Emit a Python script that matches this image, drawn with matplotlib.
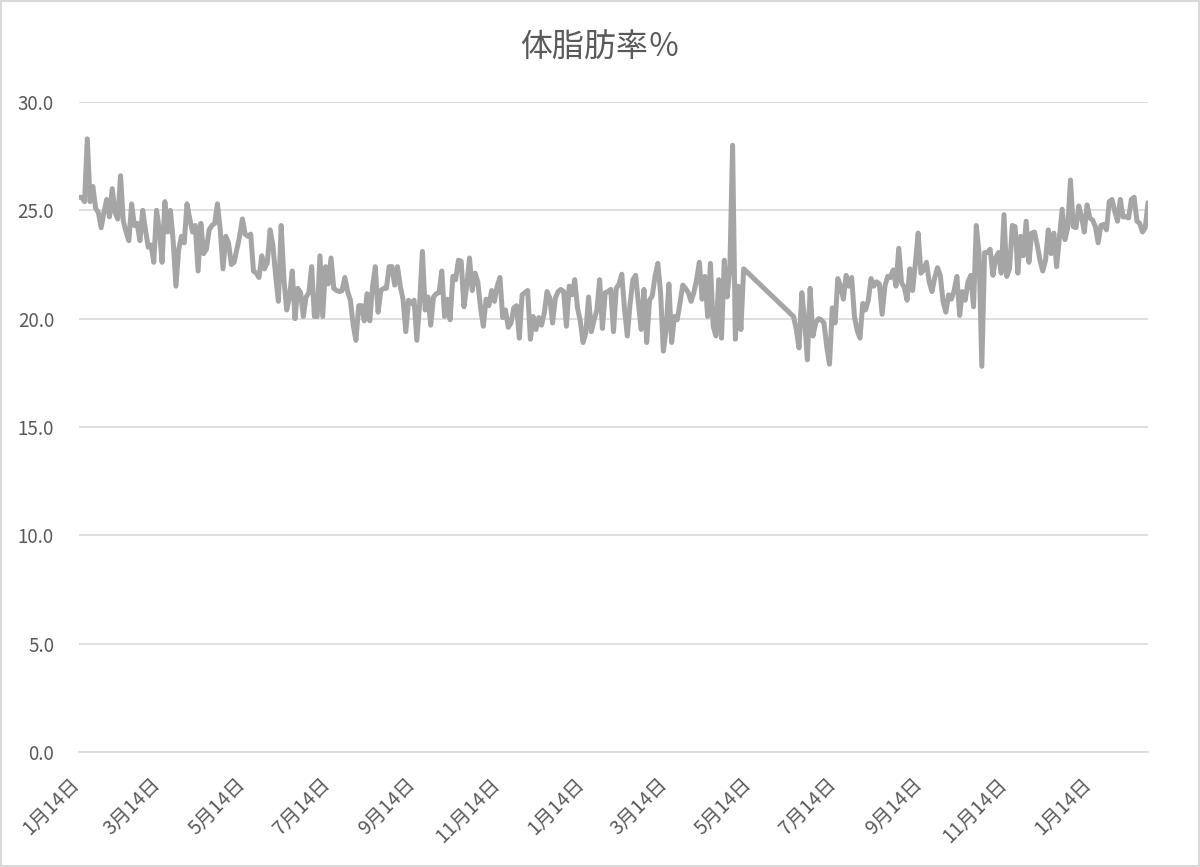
import matplotlib
matplotlib.use("Agg")
import matplotlib.pyplot as plt
import matplotlib.dates as mdates
from matplotlib.patches import Rectangle
from matplotlib.ticker import FuncFormatter, MultipleLocator
from matplotlib.transforms import ScaledTranslation
import pandas as pd

plt.rcParams["font.family"] = ["Noto Sans CJK JP", "DejaVu Sans"]

title = "体脂肪率％"

start_a = "2019-01-14"
fat_a = [
    25.6, 25.6, 25.4, 28.3, 25.4, 26.1, 25.1, 24.9, 24.2, 24.9,
    25.5, 24.7, 26.0, 24.9, 24.6, 26.6, 24.5, 24.0, 23.6, 25.3,
    24.3, 24.4, 23.6, 25.0, 24.1, 23.3, 23.4, 22.6, 25.0, 24.1,
    22.6, 25.4, 24.0, 25.0, 23.6, 21.5, 23.2, 23.8, 23.5, 25.3,
    24.6, 24.0, 24.3, 22.2, 24.4, 23.0, 23.2, 24.1, 24.3, 24.4,
    25.3, 24.1, 22.3, 23.8, 23.5, 22.5, 22.6, 23.2, 23.8, 24.6,
    23.9, 23.8, 23.9, 22.2, 22.1,
    21.9, 22.9, 22.3, 22.6, 24.1, 23.4, 22.0, 20.8, 24.3, 21.8,
    20.4, 21.0, 22.2, 20.0, 21.4, 21.2, 20.1, 21.0, 21.2, 22.4,
    20.1, 20.1, 22.9, 20.1, 22.4, 21.6, 22.8, 21.4, 21.3, 21.25,
    21.3, 21.9, 21.25, 20.85, 19.7, 19.0, 20.6, 20.6, 19.9, 21.15,
    19.9, 21.5, 22.4, 20.3, 21.3, 21.4, 21.4, 22.4, 22.4, 21.55,
    22.4, 21.5, 20.9, 19.4, 20.85, 20.7, 20.85, 19.0, 20.7, 23.1,
    20.4, 21.0, 19.7, 21.0, 21.15,
    21.2, 22.2, 20.1, 20.9, 19.95, 21.95, 21.8, 22.7, 22.65, 20.55,
    21.5, 22.8, 21.3, 22.1, 21.7, 20.5, 19.65, 20.9, 20.6, 21.3,
    20.8, 21.5, 21.9, 20.05, 20.4, 19.6, 19.8, 20.5, 20.6, 19.1,
    21.1, 21.2, 21.3, 19.05, 20.1, 19.5, 20.05, 19.7, 20.25, 21.25,
    20.95, 19.8, 20.95, 21.25, 21.35, 21.25, 19.65, 21.5, 21.1, 21.8,
    20.5, 19.9, 18.9, 19.35, 21.0, 19.4, 19.95, 20.4, 21.8, 19.55,
    21.2, 21.25, 21.35, 19.4, 21.4,
    21.6, 22.05, 20.4, 19.2, 20.7, 21.8, 22.0, 20.7, 19.5, 21.35,
    18.9, 20.85, 21.05, 21.95, 22.55, 21.2, 18.5, 19.5, 21.6, 18.9,
    20.1, 19.95, 20.7, 21.55, 21.4, 21.2, 20.8, 21.2, 21.8, 22.6,
    20.9, 21.95, 20.1, 22.55, 19.65, 19.2, 21.8, 19.1, 22.7, 21.0,
    22.25, 28.0, 19.05, 21.5, 19.5, 22.3,
]

# no measurements for about a month, then every 2 days again
start_b = "2020-06-13"
fat_b = [
    20.1, 19.5, 18.65, 21.2, 19.95, 18.1, 21.4, 19.2, 19.8, 20.0,
    19.95, 19.8, 18.7, 17.9, 20.5, 19.8, 21.85, 21.5, 20.9, 22.0,
    21.5, 21.9, 20.1, 19.45, 19.1, 20.7, 20.4, 20.85, 21.85, 21.5,
    21.7, 21.6, 20.2, 21.5, 21.95, 21.9, 22.25, 21.5, 23.25, 21.65,
    21.45, 20.85, 22.3, 21.3, 22.55, 23.95, 22.1, 22.25, 22.6, 21.7,
    21.25, 21.9, 22.35, 22.0, 20.8, 20.3, 21.1, 20.9, 21.3, 21.95,
    20.15, 21.25, 20.85, 21.7, 22.0, 20.55, 24.3, 23.0, 17.8, 23.05,
    23.05, 23.2, 22.0, 22.8, 23.05, 22.1, 24.8, 21.95, 22.3, 24.3,
    24.25, 22.1, 23.8, 22.9, 24.5, 22.6, 23.95, 24.0, 23.4, 22.7,
    22.2, 22.7, 24.1, 23.0, 23.95, 22.4, 23.7, 25.05, 23.65, 24.2,
    26.4, 24.25, 24.2, 25.2, 24.7, 24.0, 25.25, 24.65, 24.55, 24.25,
    23.5, 24.3, 24.35, 24.1, 25.4, 25.5, 24.95, 24.5, 25.5, 24.7,
    24.7, 24.65, 25.5, 25.6, 24.5, 24.4, 24.0, 24.2, 25.35,
]

dates = pd.date_range(start_a, periods=len(fat_a), freq="2D").append(
    pd.date_range(start_b, periods=len(fat_b), freq="2D"))
values = fat_a + fat_b

fig = plt.figure(figsize=(12, 8.67), dpi=100)
ax = fig.add_axes([79 / 1200, 1 - 752 / 867, (1148 - 79) / 1200, (752 - 102) / 867])

grid_c = "#d9d9d9"
text_c = "#595959"

ax.plot(dates, values, color="#a5a5a5", lw=3.6,
        solid_joinstyle="round", solid_capstyle="round", zorder=3)

ax.set_ylim(0, 30)
ax.set_xlim(dates[0], dates[-1])
ax.yaxis.set_major_locator(MultipleLocator(5))
ax.yaxis.set_major_formatter(FuncFormatter(lambda v, p: f"{v:.1f}"))
ax.grid(axis="y", color=grid_c, lw=1.2)
ax.set_axisbelow(True)

ax.xaxis.set_major_locator(mdates.MonthLocator(bymonth=(1, 3, 5, 7, 9, 11), bymonthday=14))
ax.xaxis.set_major_formatter(FuncFormatter(
    lambda v, p: f"{mdates.num2date(v).month}月{mdates.num2date(v).day}日"))

for s in ["top", "right", "left"]:
    ax.spines[s].set_visible(False)
ax.spines["bottom"].set_color(grid_c)
ax.spines["bottom"].set_linewidth(1.2)

ax.tick_params(axis="y", length=0, pad=18, labelsize=13.5, labelcolor=text_c)
ax.tick_params(axis="x", length=0, pad=0, labelsize=14, labelcolor=text_c)
shift = ScaledTranslation(-3 / 100, -29 / 100, fig.dpi_scale_trans)
for lab in ax.get_xticklabels():
    lab.set_rotation(45)
    lab.set_ha("right")
    lab.set_va("center")
    lab.set_rotation_mode("anchor")
    lab.set_transform(lab.get_transform() + shift)

fig.text(0.5, 1 - 47 / 867, title, ha="center", va="center",
         fontsize=23, color=text_c)

fig.patches.append(Rectangle((0.001, 0.001), 0.998, 0.998, transform=fig.transFigure,
                             fill=False, edgecolor=grid_c, lw=1.5))

fig.savefig("out.png", dpi=100)
